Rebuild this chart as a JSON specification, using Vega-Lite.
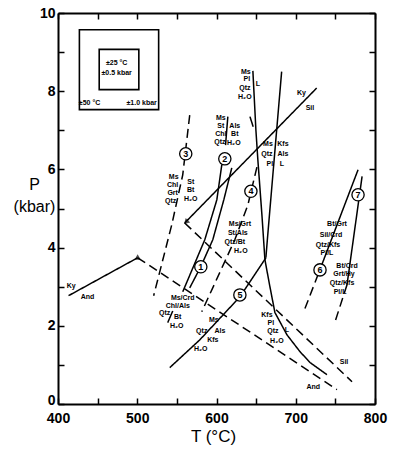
{
  "$schema": "https://vega.github.io/schema/vega-lite/v6.json",
  "width": 317,
  "height": 391,
  "autosize": "none",
  "padding": {"left": 58, "top": 13, "right": 23, "bottom": 50},
  "background": "white",
  "config": {"view": {"stroke": null}, "font": "Liberation Sans"},
  "datasets": {
    "boxes": [
      {"T1": 427, "T2": 527, "P1": 7.53, "P2": 9.57},
      {"T1": 452, "T2": 502, "P1": 8.04, "P2": 9.07}
    ],
    "lines": [
      {"id": "kyand", "o": 1, "T": 413.3, "P": 2.77, "d": "solid"},
      {"id": "kyand", "o": 2, "T": 500.5, "P": 3.74, "d": "solid"},
      {"id": "andsil1", "o": 1, "T": 500.5, "P": 3.74, "d": "dashed"},
      {"id": "andsil1", "o": 2, "T": 752, "P": 0.37, "d": "dashed"},
      {"id": "kysil", "o": 1, "T": 559.9, "P": 4.63, "d": "solid"},
      {"id": "kysil", "o": 2, "T": 726.4, "P": 8.08, "d": "solid"},
      {"id": "andsil2", "o": 1, "T": 559.9, "P": 4.63, "d": "dashed"},
      {"id": "andsil2", "o": 2, "T": 771, "P": 0.57, "d": "dashed"},
      {"id": "r3", "o": 1, "T": 566.2, "P": 7.39, "d": "dashed"},
      {"id": "r3", "o": 2, "T": 557.4, "P": 5.86, "d": "dashed"},
      {"id": "r3", "o": 3, "T": 543.5, "P": 4.58, "d": "dashed"},
      {"id": "r3", "o": 4, "T": 520.7, "P": 2.77, "d": "dashed"},
      {"id": "r2", "o": 1, "T": 606.7, "P": 6.12, "d": "solid"},
      {"id": "r2", "o": 2, "T": 600.4, "P": 5.22, "d": "solid"},
      {"id": "r2", "o": 3, "T": 585.2, "P": 4.2, "d": "solid"},
      {"id": "r2", "o": 4, "T": 557.4, "P": 2.87, "d": "solid"},
      {"id": "r1", "o": 1, "T": 619.3, "P": 6.04, "d": "solid"},
      {"id": "r1", "o": 2, "T": 609.2, "P": 5.22, "d": "solid"},
      {"id": "r1", "o": 3, "T": 595.3, "P": 4.2, "d": "solid"},
      {"id": "r1", "o": 4, "T": 580.1, "P": 3.51, "d": "solid"},
      {"id": "r1", "o": 5, "T": 566.2, "P": 2.97, "d": "solid"},
      {"id": "r4", "o": 1, "T": 651.0, "P": 6.06, "d": "dashed"},
      {"id": "r4", "o": 2, "T": 639.6, "P": 5.09, "d": "dashed"},
      {"id": "r4", "o": 3, "T": 623.1, "P": 4.2, "d": "dashed"},
      {"id": "r4", "o": 4, "T": 581.4, "P": 2.36, "d": "dashed"},
      {"id": "sol", "o": 1, "T": 645.9, "P": 8.52, "d": "solid"},
      {"id": "sol", "o": 2, "T": 649.7, "P": 7.01, "d": "solid"},
      {"id": "sol", "o": 3, "T": 652.2, "P": 6.24, "d": "solid"},
      {"id": "sol", "o": 4, "T": 657.3, "P": 4.84, "d": "solid"},
      {"id": "sol", "o": 5, "T": 661.1, "P": 3.69, "d": "solid"},
      {"id": "sol", "o": 6, "T": 667.4, "P": 3.0, "d": "solid"},
      {"id": "sol", "o": 7, "T": 673.7, "P": 2.34, "d": "solid"},
      {"id": "sol", "o": 8, "T": 688.9, "P": 1.77, "d": "solid"},
      {"id": "sol", "o": 9, "T": 705.3, "P": 1.34, "d": "solid"},
      {"id": "sol", "o": 10, "T": 718.0, "P": 1.06, "d": "solid"},
      {"id": "sol", "o": 11, "T": 739.4, "P": 0.75, "d": "solid"},
      {"id": "dhm", "o": 1, "T": 682.2, "P": 8.5, "d": "solid"},
      {"id": "dhm", "o": 2, "T": 665.2, "P": 4.45, "d": "solid"},
      {"id": "dhm", "o": 3, "T": 662.3, "P": 3.74, "d": "solid"},
      {"id": "r5", "o": 1, "T": 541.0, "P": 0.93, "d": "solid"},
      {"id": "r5", "o": 2, "T": 578.9, "P": 1.64, "d": "solid"},
      {"id": "r5", "o": 3, "T": 629.5, "P": 2.74, "d": "solid"},
      {"id": "r5", "o": 4, "T": 662.4, "P": 3.74, "d": "solid"},
      {"id": "r6a", "o": 1, "T": 711.6, "P": 2.44, "d": "dashed"},
      {"id": "r6a", "o": 2, "T": 730.6, "P": 3.44, "d": "dashed"},
      {"id": "r6b", "o": 1, "T": 730.6, "P": 3.44, "d": "solid"},
      {"id": "r6b", "o": 2, "T": 778.6, "P": 5.99, "d": "solid"},
      {"id": "r7a", "o": 1, "T": 783.7, "P": 5.82, "d": "solid"},
      {"id": "r7a", "o": 2, "T": 764.7, "P": 3.05, "d": "solid"},
      {"id": "r7b", "o": 1, "T": 764.7, "P": 3.05, "d": "dashed"},
      {"id": "r7b", "o": 2, "T": 749.5, "P": 2.1, "d": "dashed"},
      {"id": "tick1", "o": 1, "T": 642.2, "P": 7.35, "d": "solid"},
      {"id": "tick1", "o": 2, "T": 646.3, "P": 7.09, "d": "solid"},
      {"id": "sep2", "o": 1, "T": 614.3, "P": 7.35, "d": "solid"},
      {"id": "sep2", "o": 2, "T": 611.4, "P": 6.62, "d": "solid"},
      {"id": "sep1", "o": 1, "T": 544.8, "P": 2.38, "d": "solid"},
      {"id": "sep1", "o": 2, "T": 538.4, "P": 2.08, "d": "solid"}
    ],
    "labels": [
      {"T": 546.0, "P": 5.81, "t": "Ms"},
      {"T": 544.7, "P": 5.6, "t": "Chl"},
      {"T": 544.7, "P": 5.4, "t": "Grt"},
      {"T": 542.2, "P": 5.2, "t": "Qtz"},
      {"T": 567.5, "P": 5.68, "t": "St"},
      {"T": 567.5, "P": 5.48, "t": "Bt"},
      {"T": 567.5, "P": 5.25, "t": "H₂O"},
      {"T": 605.4, "P": 7.31, "t": "Ms"},
      {"T": 605.4, "P": 7.11, "t": "St"},
      {"T": 605.4, "P": 6.91, "t": "Chl"},
      {"T": 604.2, "P": 6.7, "t": "Qtz"},
      {"T": 623.1, "P": 7.11, "t": "Als"},
      {"T": 623.1, "P": 6.91, "t": "Bt"},
      {"T": 621.9, "P": 6.68, "t": "H₂O"},
      {"T": 637.0, "P": 8.5, "t": "Ms"},
      {"T": 638.3, "P": 8.3, "t": "Pl"},
      {"T": 635.8, "P": 8.07, "t": "Qtz"},
      {"T": 635.8, "P": 7.84, "t": "H₂O"},
      {"T": 652.2, "P": 8.19, "t": "L"},
      {"T": 664.9, "P": 6.66, "t": "Ms"},
      {"T": 663.6, "P": 6.4, "t": "Qtz"},
      {"T": 667.4, "P": 6.15, "t": "Pl"},
      {"T": 683.8, "P": 6.66, "t": "Kfs"},
      {"T": 683.8, "P": 6.4, "t": "Als"},
      {"T": 682.5, "P": 6.14, "t": "L"},
      {"T": 629.5, "P": 4.61, "t": "Ms/Grt"},
      {"T": 626.9, "P": 4.38, "t": "St/Als"},
      {"T": 623.1, "P": 4.15, "t": "Qtz/Bt"},
      {"T": 630.7, "P": 3.92, "t": "H₂O"},
      {"T": 557.4, "P": 2.72, "t": "Ms/Crd"},
      {"T": 551.1, "P": 2.51, "t": "Chl/Als"},
      {"T": 534.6, "P": 2.33, "t": "Qtz"},
      {"T": 551.1, "P": 2.23, "t": "Bt"},
      {"T": 549.8, "P": 2.0, "t": "H₂O"},
      {"T": 596.6, "P": 2.15, "t": "Ms"},
      {"T": 581.4, "P": 1.87, "t": "Qtz"},
      {"T": 604.2, "P": 1.87, "t": "Als"},
      {"T": 595.3, "P": 1.64, "t": "Kfs"},
      {"T": 580.1, "P": 1.41, "t": "H₂O"},
      {"T": 663.6, "P": 2.28, "t": "Kfs"},
      {"T": 668.6, "P": 2.07, "t": "Pl"},
      {"T": 671.2, "P": 1.86, "t": "Qtz"},
      {"T": 688.9, "P": 1.9, "t": "L"},
      {"T": 676.2, "P": 1.62, "t": "H₂O"},
      {"T": 752.1, "P": 4.61, "t": "Bt/Grt"},
      {"T": 744.5, "P": 4.33, "t": "Sil/Crd"},
      {"T": 740.7, "P": 4.07, "t": "Qtz/Kfs"},
      {"T": 739.4, "P": 3.87, "t": "Pl/L"},
      {"T": 764.7, "P": 3.53, "t": "Bt/Crd"},
      {"T": 760.9, "P": 3.33, "t": "Grt/Hy"},
      {"T": 758.4, "P": 3.1, "t": "Qtz/Kfs"},
      {"T": 755.9, "P": 2.87, "t": "Pl/L"},
      {"T": 416.7, "P": 3.02, "t": "Ky"},
      {"T": 437.3, "P": 2.74, "t": "And"},
      {"T": 707.3, "P": 7.95, "t": "Ky"},
      {"T": 717.9, "P": 7.58, "t": "Sil"},
      {"T": 760.9, "P": 1.08, "t": "Sil"},
      {"T": 722.1, "P": 0.43, "t": "And"},
      {"T": 474, "P": 8.72, "t": "±25 °C"},
      {"T": 474, "P": 8.47, "t": "±0.5 kbar"},
      {"T": 439.8, "P": 7.7, "t": "±50 °C"},
      {"T": 505.6, "P": 7.7, "t": "±1.0 kbar"}
    ],
    "circles": [
      {"T": 580.2, "P": 3.51, "n": "1"},
      {"T": 610.5, "P": 6.27, "n": "2"},
      {"T": 561.2, "P": 6.4, "n": "3"},
      {"T": 643.4, "P": 5.44, "n": "4"},
      {"T": 629.5, "P": 2.79, "n": "5"},
      {"T": 730.6, "P": 3.43, "n": "6"},
      {"T": 778.6, "P": 5.35, "n": "7"}
    ],
    "arrows": [
      {"T": 500.5, "P": 3.76, "a": 0},
      {"T": 561.5, "P": 4.65, "a": 225}
    ]
  },
  "layer": [
    {
      "data": {"name": "boxes"},
      "mark": {"type": "rect", "filled": false, "stroke": "black", "strokeWidth": 1.6},
      "encoding": {
        "x": {
          "field": "T1", "type": "quantitative",
          "scale": {"domain": [400, 800], "nice": false, "zero": false},
          "axis": {
            "orient": "bottom",
            "values": [400, 450, 500, 550, 600, 650, 700, 750, 800],
            "labelExpr": "datum.value % 100 === 0 ? datum.label : ''",
            "labelFlush": false, "labelOverlap": false,
            "tickSize": -6, "tickWidth": 1.5, "tickColor": "black",
            "labelPadding": 13, "domainWidth": 2, "domainColor": "black", "grid": false,
            "labelFont": "Liberation Sans", "labelFontSize": 14, "labelFontWeight": "bold", "labelColor": "black",
            "title": "T (°C)", "titleFont": "Liberation Sans", "titleFontSize": 17, "titleFontWeight": "normal",
            "titleColor": "black", "titleX": 155, "titleY": 32, "titleBaseline": "middle", "titleAlign": "center"
          }
        },
        "x2": {"field": "T2"},
        "y": {
          "field": "P1", "type": "quantitative",
          "scale": {"domain": [0, 10], "nice": false, "zero": false},
          "axis": {
            "orient": "left",
            "values": [0, 1, 2, 3, 4, 5, 6, 7, 8, 9, 10],
            "labelExpr": "datum.value % 2 === 0 ? datum.label : ''",
            "labelFlush": false, "labelOverlap": false,
            "labelOffset": {"condition": {"test": "datum.value === 0", "value": -4}, "value": 0},
            "tickSize": -6, "tickWidth": 1.5, "tickColor": "black",
            "labelPadding": 9, "domainWidth": 2, "domainColor": "black", "grid": false,
            "labelFont": "Liberation Sans", "labelFontSize": 14, "labelFontWeight": "bold", "labelColor": "black",
            "title": ["P", "(kbar)"], "titleFont": "Liberation Sans", "titleFontSize": 16, "titleFontWeight": "normal",
            "titleColor": "black", "titleAngle": 0, "titleX": -24, "titleY": 171,
            "titleAlign": "center", "titleBaseline": "middle", "titleLineHeight": 22
          }
        },
        "y2": {"field": "P2"}
      }
    },
    {
      "data": {"name": "lines"},
      "mark": {"type": "line", "color": "black", "strokeWidth": 1.5},
      "encoding": {
        "x": {
          "field": "T", "type": "quantitative",
          "scale": {"domain": [400, 800], "nice": false, "zero": false},
          "axis": {
            "orient": "top",
            "values": [400, 450, 500, 550, 600, 650, 700, 750, 800],
            "labels": false, "tickSize": -6, "tickWidth": 1.5, "tickColor": "black",
            "domainWidth": 2, "domainColor": "black", "grid": false, "title": null
          }
        },
        "y": {
          "field": "P", "type": "quantitative",
          "scale": {"domain": [0, 10], "nice": false, "zero": false},
          "axis": {
            "orient": "right",
            "values": [0, 1, 2, 3, 4, 5, 6, 7, 8, 9, 10],
            "labels": false, "tickSize": -6, "tickWidth": 1.5, "tickColor": "black",
            "domainWidth": 2, "domainColor": "black", "grid": false, "title": null
          }
        },
        "detail": {"field": "id"},
        "order": {"field": "o", "type": "quantitative"},
        "strokeDash": {
          "field": "d", "type": "nominal",
          "scale": {"domain": ["solid", "dashed"], "range": [[1, 0], [9, 5]]},
          "legend": null
        }
      }
    },
    {
      "data": {"name": "arrows"},
      "mark": {"type": "point", "shape": "triangle-up", "filled": true, "color": "black", "size": 40},
      "encoding": {
        "x": {"field": "T", "type": "quantitative", "axis": null},
        "y": {"field": "P", "type": "quantitative", "axis": null},
        "angle": {"field": "a", "type": "quantitative", "scale": null}
      }
    },
    {
      "data": {"name": "labels"},
      "mark": {"type": "text", "font": "Liberation Sans", "fontSize": 7, "fontWeight": "bold", "color": "black", "align": "center", "baseline": "middle"},
      "encoding": {
        "x": {"field": "T", "type": "quantitative", "axis": null},
        "y": {"field": "P", "type": "quantitative", "axis": null},
        "text": {"field": "t", "type": "nominal"}
      }
    },
    {
      "data": {"name": "circles"},
      "mark": {"type": "point", "shape": "circle", "filled": true, "fill": "white", "stroke": "black", "strokeWidth": 1.3, "size": 150, "opacity": 1},
      "encoding": {
        "x": {"field": "T", "type": "quantitative", "axis": null},
        "y": {"field": "P", "type": "quantitative", "axis": null}
      }
    },
    {
      "data": {"name": "circles"},
      "mark": {"type": "text", "font": "Liberation Sans", "fontSize": 9, "fontWeight": "bold", "color": "black", "align": "center", "baseline": "middle"},
      "encoding": {
        "x": {"field": "T", "type": "quantitative", "axis": null},
        "y": {"field": "P", "type": "quantitative", "axis": null},
        "text": {"field": "n", "type": "nominal"}
      }
    }
  ],
  "resolve": {"axis": {"x": "independent", "y": "independent"}}
}
